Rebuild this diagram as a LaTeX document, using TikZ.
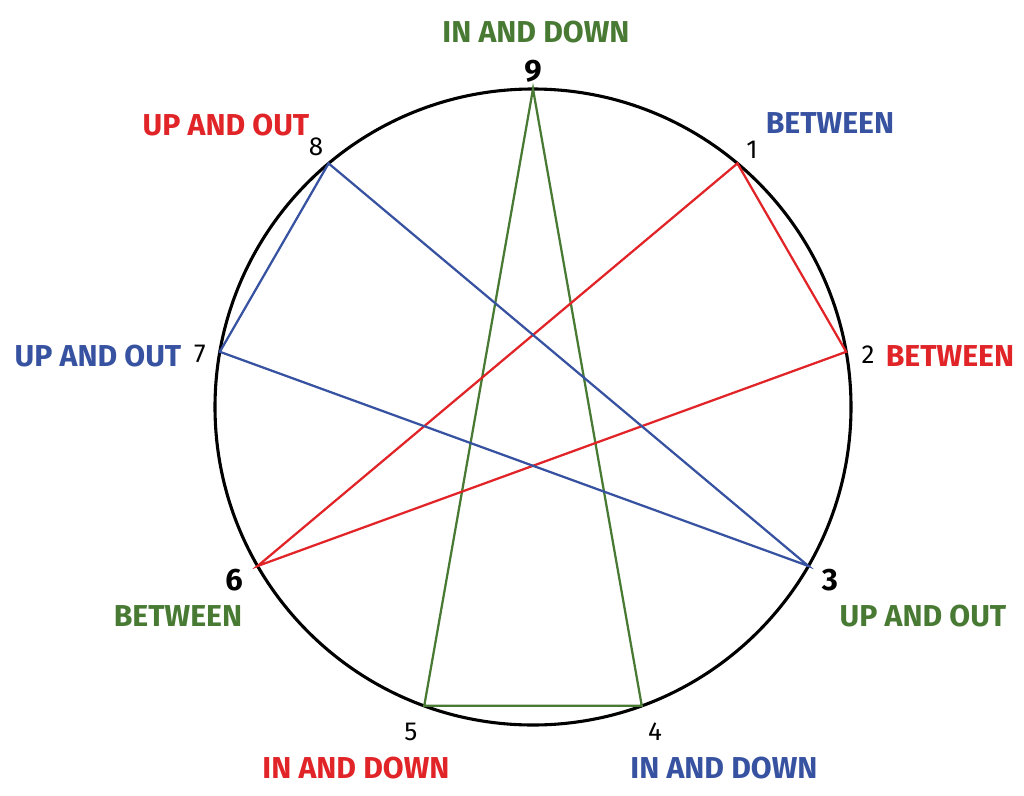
\documentclass[tikz,border=0pt]{standalone}
\usepackage{fontspec}
\setmainfont{Fira Sans}
\usetikzlibrary{calc}
\definecolor{leafgreen}{RGB}{72,122,52}
\definecolor{signred}{RGB}{224,36,40}
\definecolor{inkblue}{RGB}{55,82,160}
\tikzset{
  num/.style={font=\fontsize{18.5}{18.5}\selectfont},
  bignum/.style={font=\bfseries\fontsize{22}{22}\selectfont},
  word/.style={font=\bfseries\fontsize{21.5}{21.5}\selectfont, inner sep=0pt},
  side/.style={line width=1.6pt},
}

\begin{document}
\begin{tikzpicture}[x=0.025cm, y=-0.025cm]
    %% Background
    \useasboundingbox (0,0) rectangle (1024,795);
    %% Circle
    \coordinate (c) at (533,407);
    \draw[line width=2.2pt] (c) circle[radius=318];
    \foreach \k in {1,...,9}
        \coordinate (p\k) at ($(c)+({-90+40*\k}:318)$);
    %% Figure
    \draw[side, leafgreen] (p9) -- (p4) -- (p5) -- cycle;
    \draw[side, signred] (p1) -- (p2) -- (p6) -- cycle;
    \draw[side, inkblue] (p8) -- (p7) -- (p3) -- cycle;
    %% Numbers
    \node[bignum] (n9) at (533,71) {9};
    \node[num] (n1) at (752,150) {1};
    \node[num] (n2) at (868,355) {2};
    \node[bignum] (n3) at (830,580) {3};
    \node[num] (n4) at (655,732) {4};
    \node[num] (n5) at (411,732) {5};
    \node[bignum] (n6) at (234,580) {6};
    \node[num] (n7) at (200,354) {7};
    \node[num] (n8) at (316,147) {8};
    %% Words
    \node[word, leafgreen] (w9) at (536,32) {IN AND DOWN};
    \node[word, inkblue] (w1) at (830,123) {BETWEEN};
    \node[word, signred] (w2) at (950,356) {BETWEEN};
    \node[word, leafgreen] (w3) at (923,616) {UP AND OUT};
    \node[word, inkblue] (w4) at (724,768) {IN AND DOWN};
    \node[word, signred] (w5) at (356,768) {IN AND DOWN};
    \node[word, leafgreen] (w6) at (178,616) {BETWEEN};
    \node[word, inkblue] (w7) at (98,356) {UP AND OUT};
    \node[word, signred] (w8) at (226,125) {UP AND OUT};
\end{tikzpicture}
\end{document}
